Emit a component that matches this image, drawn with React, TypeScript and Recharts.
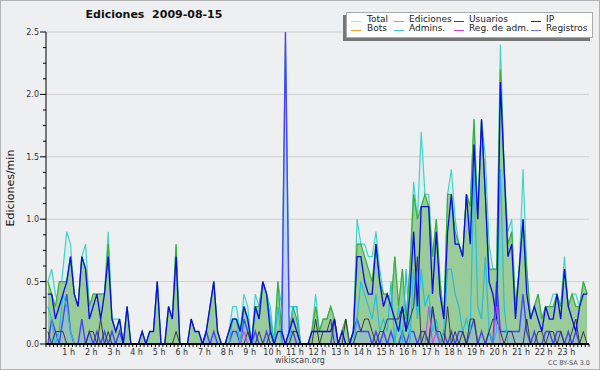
import { ComposedChart, Area, Line, XAxis, YAxis, CartesianGrid } from "recharts";

// 10-minute bins, 6 per hour, 144 bins for the day (edits per minute)
const total = [
  0.5, 0.6, 0.4, 0.3, 0.6, 0.9,
  0.8, 0.4, 0.3, 0.7, 0.8, 0.3,
  0.4, 0.4, 0.4, 0.4, 0.9, 0.2,
  0.2, 0.2, 0, 0.3, 0, 0,
  0, 0.1, 0, 0.1, 0.1, 0.5,
  0, 0, 0.3, 0.2, 0.8, 0,
  0, 0, 0.2, 0.1, 0.1, 0,
  0.1, 0.3, 0.5, 0.1, 0, 0,
  0.1, 0.3, 0.3, 0.1, 0.4, 0.3,
  0, 0.4, 0.3, 0.5, 0.4, 0.3,
  0, 0.5, 0.3, 2.4, 0.3, 0.3,
  0.3, 0, 0, 0, 0.1, 0.4,
  0.1, 0.2, 0.2, 0.3, 0.2, 0,
  0.1, 0.2, 0, 0.1, 1.0, 0.8,
  0.8, 0.7, 0.7, 0.9, 0.6, 0.4,
  0.4, 0.3, 0.7, 0.3, 0.6, 0.2,
  0.6, 1.3, 1.0, 1.7, 1.2, 1.2,
  0.7, 1.0, 0.5, 0.2, 1.2, 1.4,
  1.0, 0.8, 0.7, 1.2, 1.1, 1.8,
  1.0, 1.8, 1.5, 0.8, 0.6, 0.6,
  2.4, 1.4, 0.9, 1.0, 0.3, 0.6,
  1.4, 0.6, 0.2, 0.3, 0.4, 0.2,
  0.3, 0.3, 0.4, 0.4, 0.3, 0.7,
  0.3, 0.4, 0.4, 0.3, 0.5, 0.4,
];

const ediciones = [
  0.5, 0.4, 0.3, 0.5, 0.5, 0.5,
  0.7, 0.4, 0.3, 0.7, 0.6, 0.3,
  0.4, 0.4, 0.4, 0.4, 0.8, 0.2,
  0.1, 0.2, 0, 0.3, 0, 0,
  0, 0.1, 0, 0.1, 0.1, 0.5,
  0, 0, 0.3, 0.2, 0.8, 0,
  0, 0, 0.2, 0.1, 0.1, 0,
  0.1, 0.3, 0.5, 0.1, 0, 0,
  0.1, 0.2, 0.2, 0.1, 0.3, 0.2,
  0, 0.3, 0.3, 0.5, 0.4, 0.2,
  0, 0.5, 0.1, 0, 0.1, 0.3,
  0.2, 0, 0, 0, 0.1, 0.3,
  0.1, 0.2, 0.2, 0.3, 0.2, 0,
  0.1, 0.2, 0, 0.1, 0.8, 0.8,
  0.7, 0.6, 0.5, 0.8, 0.5, 0.4,
  0.4, 0.3, 0.7, 0.3, 0.6, 0.2,
  0.6, 1.2, 1.0, 1.1, 1.2, 1.1,
  0.7, 1.0, 0.5, 0.2, 1.2, 1.2,
  0.9, 0.8, 0.7, 1.2, 1.1, 1.8,
  1.0, 1.8, 1.2, 0.6, 0.6, 0.6,
  2.2, 1.4, 0.8, 0.9, 0.3, 0.6,
  1.0, 0.6, 0.2, 0.3, 0.4, 0.2,
  0.3, 0.3, 0.3, 0.4, 0.3, 0.6,
  0.3, 0.4, 0.3, 0.3, 0.5, 0.4,
];

const usuarios = [
  0.4, 0.4, 0.2, 0.3, 0.4, 0.5,
  0.7, 0.4, 0.3, 0.7, 0.6, 0.2,
  0.3, 0.4, 0.2, 0.4, 0.7, 0.2,
  0.1, 0.2, 0, 0.3, 0, 0,
  0, 0.1, 0, 0.1, 0.1, 0.5,
  0, 0, 0.3, 0.2, 0.7, 0,
  0, 0, 0.2, 0.1, 0.1, 0,
  0.1, 0.3, 0.5, 0.1, 0, 0,
  0.1, 0.2, 0.2, 0.1, 0.3, 0.2,
  0, 0.3, 0.2, 0.5, 0.4, 0.1,
  0, 0.1, 0.1, 0, 0.1, 0.2,
  0.1, 0, 0, 0, 0.1, 0.1,
  0.1, 0.1, 0.1, 0.1, 0.2, 0,
  0.1, 0, 0, 0.1, 0.7, 0.7,
  0.5, 0.4, 0.4, 0.8, 0.5, 0.3,
  0.4, 0.3, 0.2, 0.1, 0.3, 0.1,
  0.4, 0.9, 0.3, 1.1, 1.1, 1.1,
  0.4, 0.9, 0.4, 0.2, 0.9, 1.2,
  0.8, 0.8, 0.7, 1.2, 0.8, 1.6,
  1.0, 1.8, 1.2, 0.5, 0.4, 0.2,
  2.1, 1.4, 0.7, 0.8, 0.2, 0.6,
  1.0, 0.4, 0.2, 0.3, 0.2, 0.1,
  0.3, 0.2, 0.2, 0.4, 0.2, 0.6,
  0.3, 0.2, 0.1, 0.3, 0.4, 0.4,
];

const ip = [
  0.1, 0, 0.1, 0.1, 0.1, 0,
  0, 0, 0, 0, 0, 0.1,
  0.1, 0, 0.2, 0, 0.1, 0,
  0, 0, 0, 0, 0, 0,
  0, 0, 0, 0, 0, 0,
  0, 0, 0, 0, 0.1, 0,
  0, 0, 0, 0, 0, 0,
  0, 0, 0, 0, 0, 0,
  0, 0, 0, 0, 0, 0.1,
  0, 0, 0.1, 0, 0, 0.1,
  0, 0, 0, 0, 0, 0.1,
  0.1, 0, 0, 0, 0, 0.2,
  0, 0.1, 0.1, 0.2, 0, 0,
  0, 0.2, 0, 0, 0.1, 0.1,
  0.2, 0.2, 0.1, 0, 0.1, 0.1,
  0.2, 0.2, 0.2, 0.2, 0.3, 0.1,
  0.2, 0.3, 0.7, 0, 0.1, 0,
  0.3, 0.1, 0.1, 0, 0.3, 0,
  0.1, 0, 0.1, 0, 0.2, 0.2,
  0, 0, 0, 0.1, 0.2, 0.2,
  0.1, 0, 0.1, 0.1, 0, 0,
  0, 0.2, 0, 0, 0.1, 0.1,
  0, 0.1, 0.1, 0, 0.1, 0,
  0, 0.1, 0.2, 0, 0.1, 0,
];

const bots = new Array(144).fill(0);

const admins = [
  0.3, 0.2, 0, 0.1, 0.4, 0.3,
  0.1, 0, 0, 0, 0, 0,
  0, 0, 0, 0, 0, 0,
  0, 0, 0, 0, 0, 0,
  0, 0, 0, 0, 0, 0,
  0, 0, 0, 0, 0, 0,
  0, 0, 0, 0, 0, 0,
  0, 0, 0, 0, 0, 0,
  0, 0.2, 0.2, 0, 0.3, 0.2,
  0, 0.3, 0.2, 0.5, 0.4, 0.2,
  0, 0.3, 0, 0, 0, 0.3,
  0.3, 0, 0, 0, 0, 0,
  0, 0, 0, 0, 0, 0,
  0, 0, 0, 0, 0.2, 0.5,
  0.4, 0.3, 0.2, 0.4, 0.1, 0.2,
  0.1, 0.5, 0, 0.3, 0, 0.6,
  0, 0.6, 0.2, 0.6, 0.3, 0.4,
  0.1, 0.2, 0, 0.1, 0.6, 0.6,
  0.4, 0.3, 0.1, 0.2, 0.1, 1.4,
  0.3, 0.2, 0.7, 0.1, 0, 0.1,
  1.4, 0.3, 0, 0, 0, 0,
  0, 0, 0, 0, 0, 0,
  0, 0, 0, 0, 0, 0,
  0, 0, 0, 0, 0, 0,
];

const regAdm = [
  0, 0, 0, 0, 0, 0,
  0, 0, 0, 0, 0, 0,
  0, 0, 0, 0, 0, 0,
  0, 0, 0, 0, 0, 0,
  0, 0, 0, 0, 0, 0,
  0, 0, 0, 0, 0, 0,
  0, 0, 0, 0, 0, 0,
  0, 0, 0, 0, 0, 0,
  0, 0, 0, 0, 0.1, 0,
  0, 0, 0, 0, 0, 0,
  0, 0, 0, 0, 0, 0,
  0, 0, 0, 0, 0, 0,
  0, 0, 0, 0, 0, 0,
  0, 0, 0, 0, 0, 0,
  0, 0, 0, 0, 0, 0,
  0, 0, 0, 0, 0, 0,
  0, 0, 0, 0, 0, 0.3,
  0, 0.1, 0, 0, 0, 0,
  0, 0, 0, 0, 0, 0,
  0, 0, 0, 0, 0, 0.3,
  0, 0, 0, 0, 0, 0,
  0, 0, 0, 0, 0, 0,
  0, 0, 0, 0, 0, 0,
  0, 0, 0, 0, 0, 0,
];

const registros = [
  0, 0.2, 0.1, 0, 0.2, 0.4,
  0.1, 0, 0, 0.2, 0, 0.1,
  0, 0.1, 0, 0.1, 0, 0.1,
  0, 0.1, 0, 0, 0, 0,
  0, 0, 0, 0, 0, 0,
  0, 0, 0, 0, 0, 0,
  0, 0, 0, 0, 0, 0,
  0.1, 0, 0.1, 0, 0, 0,
  0, 0.1, 0.1, 0, 0.2, 0.1,
  0, 0.1, 0, 0, 0.1, 0,
  0, 0, 0, 2.5, 0.1, 0.1,
  0, 0, 0, 0, 0, 0,
  0, 0, 0, 0, 0.2, 0,
  0, 0, 0, 0.1, 0.2, 0.1,
  0.1, 0.1, 0, 0.1, 0, 0.1,
  0, 0.1, 0, 0, 0.1, 0,
  0.1, 0.1, 0, 0.1, 0.1, 0,
  0.3, 0.1, 0, 0.1, 0, 0.1,
  0, 0.1, 0.1, 0, 0.1, 0.2,
  0, 0.1, 0, 0.1, 0, 0.5,
  0.1, 0.1, 0.1, 0.1, 0.1, 0.1,
  0.4, 0.1, 0, 0.1, 0, 0,
  0.1, 0.1, 0, 0.1, 0.1, 0,
  0.1, 0, 0.1, 0, 0, 0,
];

const hourLabels = [
  "1 h", "2 h", "3 h", "4 h", "5 h", "6 h", "7 h", "8 h", "9 h", "10 h", "11 h", "12 h",
  "13 h", "14 h", "15 h", "16 h", "17 h", "18 h", "19 h", "20 h", "21 h", "22 h", "23 h",
];
const yLabels = ["0.0", "0.5", "1.0", "1.5", "2.0", "2.5"];
const legendNames = ["Total", "Ediciones", "Usuarios", "IP", "Bots", "Admins.", "Reg. de adm.", "Registros"];

const yMax = 2.5;
const binsPerHour = 6;
const nBins = total.length;

const rows = total.map((t, i) => ({
  x: i + 0.5,
  total: t,
  ediciones: ediciones[i],
  usuarios: usuarios[i],
  ip: ip[i],
  bots: bots[i],
  admins: admins[i],
  regAdm: regAdm[i],
  registros: registros[i],
}));

const yTicks = Array.from({ length: 21 }, (_, k) => k * 0.125);
const xTicks = Array.from({ length: nBins + 1 }, (_, k) => k);
const gridValues = [0.5, 1, 1.5, 2, 2.5];

const FONT = "'DejaVu Sans', Verdana, sans-serif";

const legendColors = ["#a6e3df", "#6cc46c", "#3434cc", "#333333", "#f0a030", "#3cc4d8", "#d040d0", "#7474e4"];

function YTick(props: any) {
  const { x, y, payload } = props;
  const v = payload.value;
  const major = Math.abs(v / 0.5 - Math.round(v / 0.5)) < 1e-6;
  return (
    <g>
      <line x1={x - (major ? 6 : 3)} x2={x} y1={y} y2={y} stroke="#000" strokeWidth={1} />
      {major && (
        <text x={x - 7} y={y + 3} textAnchor="end" fontSize={8} fill="#333" fontFamily={FONT}>
          {yLabels[Math.round(v / 0.5)]}
        </text>
      )}
    </g>
  );
}

function XTick(props: any) {
  const { x, y, payload } = props;
  const v = payload.value;
  const isHour = v % binsPerHour === 0 && v > 0 && v < nBins;
  return (
    <g>
      <line x1={x} x2={x} y1={y} y2={y + 3} stroke="#000" strokeWidth={1} />
      {isHour && (
        <text x={x} y={y + 11} textAnchor="middle" fontSize={8} fill="#333" fontFamily={FONT}>
          {hourLabels[v / binsPerHour - 1]}
        </text>
      )}
    </g>
  );
}

function Legend() {
  const cols = [
    { sw: 350, tx: 366 },
    { sw: 393, tx: 408 },
    { sw: 453, tx: 468 },
    { sw: 530, tx: 545 },
  ];
  return (
    <div
      style={{
        position: "absolute",
        left: 346,
        top: 12,
        width: 247,
        height: 26,
        background: "#fff",
        border: "1px solid #aaa",
        boxSizing: "border-box",
        boxShadow: "-3px 3px 0 #777",
      }}
    >
      {legendNames.map((name, i) => {
        const c = cols[i % 4];
        const rowTop = i < 4 ? 3 : 12;
        return (
          <div key={name}>
            <div
              style={{
                position: "absolute",
                left: c.sw - 346,
                top: rowTop + 5,
                width: 10,
                height: 1,
                background: legendColors[i],
              }}
            />
            <div
              style={{
                position: "absolute",
                left: c.tx - 346,
                top: rowTop - 2,
                fontSize: 9,
                lineHeight: "11px",
                fontFamily: FONT,
                color: "#222",
                whiteSpace: "pre",
              }}
            >
              {name}
            </div>
          </div>
        );
      })}
    </div>
  );
}

export default function App() {
  return (
    <div
      style={{
        position: "fixed",
        left: 0,
        top: 0,
        width: 600,
        height: 370,
        background: "#eeeff0",
        overflow: "hidden",
      }}
    >
      <div style={{ position: "absolute", left: 0, top: 0 }}>
        <ComposedChart
          width={600}
          height={370}
          data={rows}
          margin={{ top: 32, right: 11, bottom: 6, left: 0 }}
          style={{ fontFamily: FONT }}
        >
          <CartesianGrid
            vertical={false}
            stroke="#cfcfcf"
            strokeWidth={1}
            horizontalCoordinatesGenerator={({ yAxis, offset }: any) =>
              gridValues.map((v) =>
                yAxis && typeof yAxis.scale === "function"
                  ? yAxis.scale(v)
                  : offset.top + offset.height * (1 - v / yMax)
              )
            }
          />
          <XAxis
            dataKey="x"
            type="number"
            domain={[0, nBins]}
            ticks={xTicks}
            interval={0}
            tickSize={0}
            tickMargin={0}
            tick={<XTick />}
            height={20}
            axisLine={{ stroke: "#000", strokeWidth: 2 }}
            allowDataOverflow
          />
          <YAxis
            type="number"
            domain={[0, yMax]}
            ticks={yTicks}
            interval={0}
            tickSize={0}
            tickMargin={0}
            tick={<YTick />}
            width={46}
            axisLine={{ stroke: "#000", strokeWidth: 1 }}
            allowDataOverflow
          />
          <Area
            type="linear"
            dataKey="total"
            stroke="#44d2cc"
            strokeWidth={1.2}
            fill="#dcefee"
            fillOpacity={1}
            dot={false}
            activeDot={false}
            isAnimationActive={false}
          />
          <Area
            type="linear"
            dataKey="ediciones"
            stroke="#36b036"
            strokeWidth={1.2}
            fill="#99cc99"
            fillOpacity={1}
            dot={false}
            activeDot={false}
            isAnimationActive={false}
          />
          <Area
            type="linear"
            dataKey="registros"
            stroke="#4646f4"
            strokeWidth={1.4}
            fill="#8fb0f0"
            fillOpacity={0.4}
            dot={false}
            activeDot={false}
            isAnimationActive={false}
          />
          <Line
            type="linear"
            dataKey="admins"
            stroke="#22c0dc"
            strokeWidth={1.2}
            dot={false}
            activeDot={false}
            isAnimationActive={false}
          />
          <Line
            type="linear"
            dataKey="ip"
            stroke="#3a3a3a"
            strokeWidth={1}
            dot={false}
            activeDot={false}
            isAnimationActive={false}
          />
          <Line
            type="linear"
            dataKey="usuarios"
            stroke="#0a0ae6"
            strokeWidth={1.3}
            dot={false}
            activeDot={false}
            isAnimationActive={false}
          />
          <Line
            type="linear"
            dataKey="regAdm"
            stroke="#cc44dd"
            strokeWidth={1}
            dot={false}
            activeDot={false}
            isAnimationActive={false}
          />
          <Line
            type="linear"
            dataKey="bots"
            stroke="#f0a030"
            strokeWidth={1}
            dot={false}
            activeDot={false}
            isAnimationActive={false}
          />
        </ComposedChart>
      </div>

      <div
        style={{
          position: "absolute",
          left: 0,
          width: 308,
          top: 8,
          textAlign: "center",
          fontFamily: FONT,
          fontWeight: "bold",
          fontSize: 11,
          color: "#111",
          whiteSpace: "pre",
        }}
      >
        {"Ediciones  2009-08-15"}
      </div>

      <div
        style={{
          position: "absolute",
          left: 10,
          top: 188,
          transform: "translate(-50%, -50%) rotate(-90deg)",
          fontFamily: FONT,
          fontSize: 11,
          color: "#111",
          whiteSpace: "pre",
        }}
      >
        Ediciones/min
      </div>

      <div
        style={{
          position: "absolute",
          left: 250,
          width: 100,
          top: 356,
          textAlign: "center",
          fontFamily: FONT,
          fontSize: 8,
          color: "#444",
        }}
      >
        wikiscan.org
      </div>

      <div
        style={{
          position: "absolute",
          right: 10,
          top: 359,
          fontFamily: FONT,
          fontSize: 6.5,
          color: "#555",
          whiteSpace: "pre",
        }}
      >
        CC BY-SA 3.0
      </div>

      <Legend />

      <div
        style={{
          position: "absolute",
          left: 0,
          top: 0,
          width: 600,
          height: 370,
          boxSizing: "border-box",
          border: "1px solid #b4b4b4",
          pointerEvents: "none",
        }}
      />
    </div>
  );
}
